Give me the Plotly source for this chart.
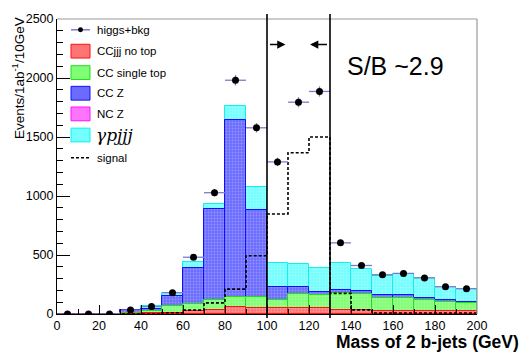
import numpy as np
import plotly.graph_objects as go

# ---------------- data ----------------
bin_edges = list(range(0, 210, 10))
bin_centers = [e + 5 for e in range(0, 200, 10)]

cc_jjj_no_top = [0, 0, 0, 2, 5, 11, 25, 33, 57, 53, 48, 48, 48, 36, 36, 25, 25, 22, 22, 22]
cc_single_top = [0, 0, 1, 10, 20, 56, 58, 89, 85, 89, 74, 124, 110, 142, 131, 114, 114, 95, 78, 68]
cc_z = [0, 0, 1, 19, 14, 86, 311, 767, 1502, 741, 106, 61, 32, 29, 25, 19, 19, 22, 22, 10]
nc_z = [0, 0, 0, 0, 0, 0, 0, 0, 0, 0, 0, 0, 0, 0, 0, 0, 0, 0, 0, 0]
gamma_pjjj = [0, 0, 0, 3, 28, 25, 50, 47, 120, 192, 208, 195, 196, 226, 189, 167, 181, 167, 111, 114]
signal = [0, 0, 0, 0, 0, 10, 33, 94, 211, 494, 848, 1367, 1500, 175, 35, 8, 8, 8, 8, 8]
higgs_bkg = [0, 0, 1, 33, 64, 181, 481, 1028, 1981, 1578, 1289, 1795, 1886, 603, 411, 333, 344, 306, 231, 214]
higgs_bkg_err = [0, 0, 2, 6, 8, 13, 22, 32, 44, 40, 36, 42, 43, 25, 20, 18, 19, 17, 15, 15]

cut_low, cut_high = 100, 130
sb_text = "S/B ~2.9"

# ---------------- figure ----------------
W, H = 527, 352
L, R, T, B = 57, 477, 14, 314

def px(x):
    return (x - L) / (R - L)

def py(y):
    return (B - y) / (B - T)

FONT = "Liberation Sans, Arial, sans-serif"

components = [
    ("CCjjj no top", cc_jjj_no_top, "#ff7474", "#ff1010"),
    ("CC single top", cc_single_top, "#80ff74", "#20dd20"),
    ("CC Z", cc_z, "#6b6bff", "#1010ff"),
    ("NC Z", nc_z, "#ff74ff", "#ff10ff"),
    ("γpjjj", gamma_pjjj, "#74ffff", "#10f0f0"),
]

cum = np.cumsum(np.array([c[1] for c in components], dtype=float), axis=0)

fig = go.Figure()

# draw cumulative histograms from the top of the stack downwards
for i in range(len(components) - 1, -1, -1):
    name, vals, fill, edge = components[i]
    fig.add_trace(go.Bar(
        x=bin_centers, y=cum[i], width=10,
        marker=dict(color=fill, line=dict(color=edge, width=1),
                    pattern=dict(shape=".", fgcolor="rgba(255,255,255,0.55)", size=3, solidity=0.3)),
        name=name, showlegend=False, hoverinfo="skip",
    ))

# signal step line
sig_y = list(signal) + [signal[-1]]
fig.add_trace(go.Scatter(
    x=bin_edges, y=sig_y, mode="lines", line=dict(shape="hv", color="black", width=1.6, dash="3px,2px"),
    showlegend=False, hoverinfo="skip",
))

# higgs + bkg points
fig.add_trace(go.Scatter(
    x=bin_centers, y=higgs_bkg, mode="markers",
    marker=dict(color="black", size=7),
    error_x=dict(type="constant", value=5, color="#7b7bcc", thickness=1.3, width=0),
    error_y=dict(type="data", array=higgs_bkg_err, color="#7b7bcc", thickness=1.3, width=0),
    showlegend=False, hoverinfo="skip",
))

shapes = []
annotations = []

# frame (top and right)
shapes.append(dict(type="line", xref="paper", yref="paper", x0=0, x1=1, y0=1, y1=1,
                   line=dict(color="#999999", width=1.2)))
shapes.append(dict(type="line", xref="paper", yref="paper", x0=1, x1=1, y0=0, y1=1,
                   line=dict(color="#999999", width=1.2)))

# cut lines
for xc in (cut_low, cut_high):
    shapes.append(dict(type="line", xref="x", yref="paper", x0=xc, x1=xc, y0=py(318), y1=py(9),
                       line=dict(color="black", width=1.6)))

# arrows
arrow_y = 2283
annotations.append(dict(x=108.8, y=arrow_y, ax=cut_low, ay=arrow_y, xref="x", yref="y", axref="x", ayref="y",
                        showarrow=True, arrowhead=2, arrowsize=1.1, arrowwidth=1.5, arrowcolor="black", text=" "))
annotations.append(dict(x=120.5, y=arrow_y, ax=cut_high, ay=arrow_y, xref="x", yref="y", axref="x", ayref="y",
                        showarrow=True, arrowhead=2, arrowsize=1.1, arrowwidth=1.5, arrowcolor="black", text=" "))

# S/B text
annotations.append(dict(x=px(395), y=py(62), xref="paper", yref="paper", text=sb_text, showarrow=False,
                        font=dict(family=FONT, size=25, color="black"), xanchor="center", yanchor="middle"))

# legend (manual)
leg_rows = [25, 46.7, 68.5, 89.5, 110.5, 132, 155]
sw_x0, sw_x1, txt_x = 71, 90, 95
# higgs+bkg
shapes.append(dict(type="line", xref="paper", yref="paper", x0=px(sw_x0), x1=px(sw_x1),
                   y0=py(leg_rows[0]), y1=py(leg_rows[0]), line=dict(color="#6a6ab8", width=1.3)))
shapes.append(dict(type="circle", xref="paper", yref="paper", x0=px(78), x1=px(83),
                   y0=py(leg_rows[0] + 2.5), y1=py(leg_rows[0] - 2.5), fillcolor="black", line=dict(color="black", width=0)))
annotations.append(dict(x=px(txt_x), y=py(leg_rows[0]), xref="paper", yref="paper", text="higgs+bkg",
                        showarrow=False, xanchor="left", yanchor="middle", font=dict(family=FONT, size=11.5, color="black")))
for k, (name, vals, fill, edge) in enumerate(components):
    yc = leg_rows[k + 1]
    shapes.append(dict(type="rect", xref="paper", yref="paper", x0=px(sw_x0), x1=px(sw_x1),
                       y0=py(yc + 7), y1=py(yc - 7), fillcolor=fill, line=dict(color=edge, width=1)))
    if name == "γpjjj":
        annotations.append(dict(x=px(txt_x - 1), y=py(yc), xref="paper", yref="paper", text="<i>γpjjj</i>",
                                showarrow=False, xanchor="left", yanchor="middle",
                                font=dict(family="DejaVu Serif, serif", size=17, color="black")))
    else:
        annotations.append(dict(x=px(txt_x), y=py(yc), xref="paper", yref="paper", text=name,
                                showarrow=False, xanchor="left", yanchor="middle",
                                font=dict(family=FONT, size=11.5, color="black")))
# signal
shapes.append(dict(type="line", xref="paper", yref="paper", x0=px(sw_x0), x1=px(sw_x1),
                   y0=py(leg_rows[6]), y1=py(leg_rows[6]), line=dict(color="black", width=1.5, dash="3px,2px")))
annotations.append(dict(x=px(txt_x), y=py(leg_rows[6]), xref="paper", yref="paper", text="signal",
                        showarrow=False, xanchor="left", yanchor="middle", font=dict(family=FONT, size=11.5, color="black")))

# axis titles
annotations.append(dict(x=px(18), y=py(10), xref="paper", yref="paper", text="Events/1ab<sup>-1</sup>/10GeV",
                        textangle=-90, showarrow=False, xanchor="center", yanchor="top",
                        font=dict(family=FONT, size=13.5, color="black")))
annotations.append(dict(x=px(520), y=py(342.5), xref="paper", yref="paper", text="<b>Mass of 2 b-jets (GeV)</b>",
                        showarrow=False, xanchor="right", yanchor="middle", borderpad=0,
                        font=dict(family=FONT, size=17.5, color="black")))

fig.update_layout(
    width=W, height=H,
    margin=dict(l=L, r=W - R, t=T, b=H - B),
    paper_bgcolor="white", plot_bgcolor="white",
    barmode="overlay", bargap=0,
    showlegend=False,
    shapes=shapes, annotations=annotations,
    font=dict(family=FONT, size=12, color="black"),
    xaxis=dict(range=[0, 200], tickvals=list(range(0, 220, 20)), ticks="inside", ticklen=9, tickcolor="black",
               showline=True, linecolor="black", linewidth=1, showgrid=False, zeroline=False,
               tickfont=dict(family=FONT, size=12.5, color="black"),
               minor=dict(ticks="inside", ticklen=5, dtick=10, tickcolor="black")),
    yaxis=dict(range=[0, 2500], tickvals=list(range(0, 3000, 500)), ticks="inside", ticklen=13, tickcolor="black",
               showline=True, linecolor="black", linewidth=1, showgrid=False, zeroline=False,
               tickfont=dict(family=FONT, size=12.5, color="black"),
               minor=dict(ticks="inside", ticklen=6, dtick=100, tickcolor="black")),
)

fig.write_html("out.html", config={"displayModeBar": False},
               post_script="document.body.style.margin='0px';document.body.style.overflow='hidden';")
